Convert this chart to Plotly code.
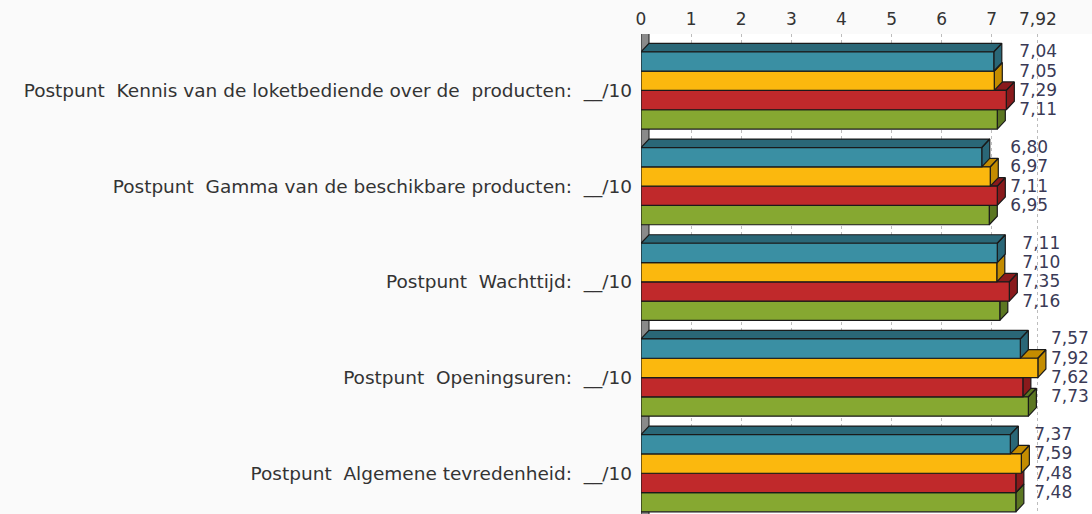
import plotly.graph_objects as go

# Survey scores (out of 10) per postpunt question, four series each
categories = [
    "Postpunt\u00a0 Kennis van de loketbediende over de\u00a0 producten:\u00a0 __/10",
    "Postpunt\u00a0 Gamma van de beschikbare producten:\u00a0 __/10",
    "Postpunt\u00a0 Wachttijd:\u00a0 __/10",
    "Postpunt\u00a0 Openingsuren:\u00a0 __/10",
    "Postpunt\u00a0 Algemene tevredenheid:\u00a0 __/10",
]
series_teal = [7.04, 6.80, 7.11, 7.57, 7.37]
series_yellow = [7.05, 6.97, 7.10, 7.92, 7.59]
series_red = [7.29, 7.11, 7.35, 7.62, 7.48]
series_green = [7.11, 6.95, 7.16, 7.73, 7.48]

tick_values = [0, 1, 2, 3, 4, 5, 6, 7, 7.92]
tick_labels = ["0", "1", "2", "3", "4", "5", "6", "7", "7,92"]

# series listed top-to-bottom inside each group: (values, front colour, side colour)
series = [
    (series_teal, "#3A8FA3", "#2A6777"),
    (series_yellow, "#FBB80E", "#C48C00"),
    (series_red, "#C0292B", "#8A1A1C"),
    (series_green, "#86A831", "#5C7722"),
]

BAR_H = 0.2017      # bar thickness in group units
DX = 0.16           # 3D depth, x units
DY = 0.089          # 3D depth, y units
Y_TOP, Y_BOT = 0.590, -4.426
OUTLINE = "#1a1a1a"


def fmt(v):
    return f"{v:.2f}".replace(".", ",")


def bar_box(g, k):
    top = -g + 2 * BAR_H - k * BAR_H
    return top, top - BAR_H


fig = go.Figure()

# grey side wall at the value-axis origin
fig.add_trace(go.Scatter(
    x=[0, 0, DX, DX, 0], y=[Y_BOT - 0.1, Y_TOP, Y_TOP + DY, Y_BOT - 0.1, Y_BOT - 0.1],
    fill="toself", fillcolor="#8a8a8a", mode="lines",
    line=dict(color=OUTLINE, width=1), hoverinfo="skip", showlegend=False,
))

# draw from the bottom bar of each group upwards so upper bars sit in front
for k in reversed(range(len(series))):
    vals, front_col, side_col = series[k]
    sx, sy, fx, fy = [], [], [], []
    for g, v in enumerate(vals):
        t, b = bar_box(g, k)
        # top face
        sx += [0, v, v + DX, DX, 0, None]
        sy += [t, t, t + DY, t + DY, t, None]
        # right face
        sx += [v, v + DX, v + DX, v, v, None]
        sy += [b, b + DY, t + DY, t, b, None]
        # front face
        fx += [0, v, v, 0, 0, None]
        fy += [b, b, t, t, b, None]
    fig.add_trace(go.Scatter(
        x=sx, y=sy, fill="toself", fillcolor=side_col, mode="lines",
        line=dict(color=OUTLINE, width=1.2), hoverinfo="skip", showlegend=False,
    ))
    fig.add_trace(go.Scatter(
        x=fx, y=fy, fill="toself", fillcolor=front_col, mode="lines",
        line=dict(color=OUTLINE, width=1.2), hoverinfo="skip", showlegend=False,
    ))

# value labels, left-aligned just past the longest bar of each group
lx, ly, lt = [], [], []
for g in range(len(categories)):
    gmax = max(s[0][g] for s in series)
    for k, (vals, _, _) in enumerate(series):
        t, b = bar_box(g, k)
        lx.append(gmax + 0.26)
        ly.append((t + b) / 2 + DY)
        lt.append(fmt(vals[g]))
fig.add_trace(go.Scatter(
    x=lx, y=ly, text=lt, mode="text", textposition="middle right",
    textfont=dict(family="DejaVu Sans", size=17, color="#3a3a56"),
    hoverinfo="skip", showlegend=False, cliponaxis=False,
))

fig.update_layout(
    width=1092, height=514,
    margin=dict(l=641, r=0, t=34, b=0),
    paper_bgcolor="#FAFAFA", plot_bgcolor="#FFFFFF",
    font=dict(family="DejaVu Sans", color="#333333"),
    xaxis=dict(
        side="top", range=[0, 9.0], tickvals=tick_values, ticktext=tick_labels,
        showgrid=True, gridcolor="#BDBDBD", griddash="dot", gridwidth=1,
        zeroline=False, showline=False, ticks="",
        tickfont=dict(size=17, color="#333333"), ticklabelstandoff=5,
    ),
    yaxis=dict(
        range=[Y_BOT, Y_TOP], tickvals=[0, -1, -2, -3, -4], ticktext=categories,
        showgrid=False, zeroline=False, showline=False, ticks="",
        tickfont=dict(size=18.5, color="#333333"), ticklabelstandoff=8,
    ),
)

fig.write_html("out.html")
